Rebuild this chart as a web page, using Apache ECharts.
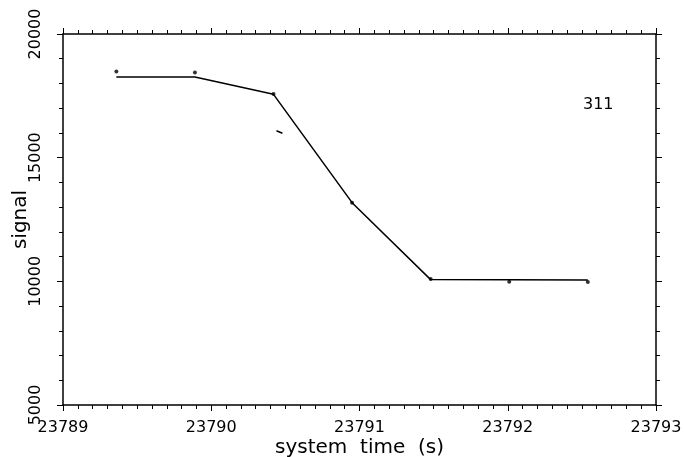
<!DOCTYPE html>
<html>
<head>
<meta charset="utf-8">
<script src="https://cdn.jsdelivr.net/npm/echarts@6/dist/echarts.min.js"></script>
<style>html,body{margin:0;padding:0;background:#fff;}#c{width:684px;height:457px;}</style>
</head>
<body>
<div id="c"></div>
<script>
// measured points (time s, signal)
const times = [23789.36, 23789.89, 23790.42, 23790.95, 23791.48, 23792.01, 23792.54];
const signal = [18480, 18440, 17570, 13180, 10090, 9985, 9975];
// fitted curve
const fitTimes = [23789.36, 23789.89, 23790.42, 23790.95, 23791.48, 23792.54];
const fitSignal = [18260, 18260, 17560, 13180, 10070, 10050];
// small stray mark
const strayTimes = [23790.44, 23790.48];
const straySignal = [16090, 15985];
const xTicks = [23789, 23790, 23791, 23792, 23793];
const yTicks = [5000, 10000, 15000, 20000];
const panelLabel = '311';

const font = 'DejaVu Sans';
const zip = (a, b) => a.map((v, i) => [v, b[i]]);
const axisLine = { show: true, lineStyle: { color: '#000', width: 1.5 } };

const chart = echarts.init(document.getElementById('c'));
chart.setOption({
  animation: false,
  backgroundColor: '#fff',
  grid: { left: 63, right: 28, top: 34, bottom: 52, containLabel: false, outerBoundsMode: 'none' },
  graphic: [{
    type: 'text', left: 583, top: 97,
    style: { text: panelLabel, fontFamily: font, fontSize: 16, fill: '#000' }
  }],
  xAxis: [{
    type: 'value', min: xTicks[0], max: xTicks[xTicks.length - 1], interval: 1,
    position: 'bottom',
    axisLine: axisLine,
    axisTick: { show: true, inside: false, length: 6, lineStyle: { color: '#000', width: 1 } },
    minorTick: { show: true, splitNumber: 10, length: 4, lineStyle: { color: '#000', width: 1 } },
    splitLine: { show: false },
    axisLabel: { margin: 15, fontFamily: font, fontSize: 16, color: '#000', formatter: v => String(v) },
    name: 'system  time  (s)', nameLocation: 'middle', nameGap: 33, nameMoveOverlap: false,
    nameTextStyle: { fontFamily: font, fontSize: 20, color: '#000' }
  }, {
    type: 'value', min: xTicks[0], max: xTicks[xTicks.length - 1], interval: 1,
    position: 'top',
    axisLine: axisLine,
    axisTick: { show: true, inside: false, length: 6, lineStyle: { color: '#000', width: 1 } },
    minorTick: { show: true, splitNumber: 10, length: 4, lineStyle: { color: '#000', width: 1 } },
    splitLine: { show: false },
    axisLabel: { show: false }
  }],
  yAxis: [{
    type: 'value', min: yTicks[0], max: yTicks[yTicks.length - 1], interval: 5000,
    position: 'left',
    axisLine: axisLine,
    axisTick: { show: true, inside: false, length: 6, lineStyle: { color: '#000', width: 1 } },
    minorTick: { show: true, splitNumber: 5, length: 4, lineStyle: { color: '#000', width: 1 } },
    splitLine: { show: false },
    axisLabel: { rotate: 90, margin: 19, fontFamily: font, fontSize: 16, color: '#000', formatter: v => String(v) },
    name: 'signal', nameLocation: 'middle', nameGap: 32, nameMoveOverlap: false,
    nameTextStyle: { fontFamily: font, fontSize: 20, color: '#000' }
  }, {
    type: 'value', min: yTicks[0], max: yTicks[yTicks.length - 1], interval: 5000,
    position: 'right',
    axisLine: axisLine,
    axisTick: { show: true, inside: false, length: 6, lineStyle: { color: '#000', width: 1 } },
    minorTick: { show: true, splitNumber: 5, length: 4, lineStyle: { color: '#000', width: 1 } },
    splitLine: { show: false },
    axisLabel: { show: false }
  }],
  series: [{
    type: 'line', xAxisIndex: 0, yAxisIndex: 0,
    data: zip(fitTimes, fitSignal), showSymbol: false,
    lineStyle: { color: '#000', width: 1.5 }
  }, {
    type: 'line', xAxisIndex: 0, yAxisIndex: 0,
    data: zip(strayTimes, straySignal), showSymbol: false,
    lineStyle: { color: '#000', width: 1.5 }
  }, {
    type: 'scatter', xAxisIndex: 0, yAxisIndex: 0,
    data: zip(times, signal), symbol: 'circle', symbolSize: 4,
    itemStyle: { color: '#000' }
  }]
});
</script>
</body>
</html>
